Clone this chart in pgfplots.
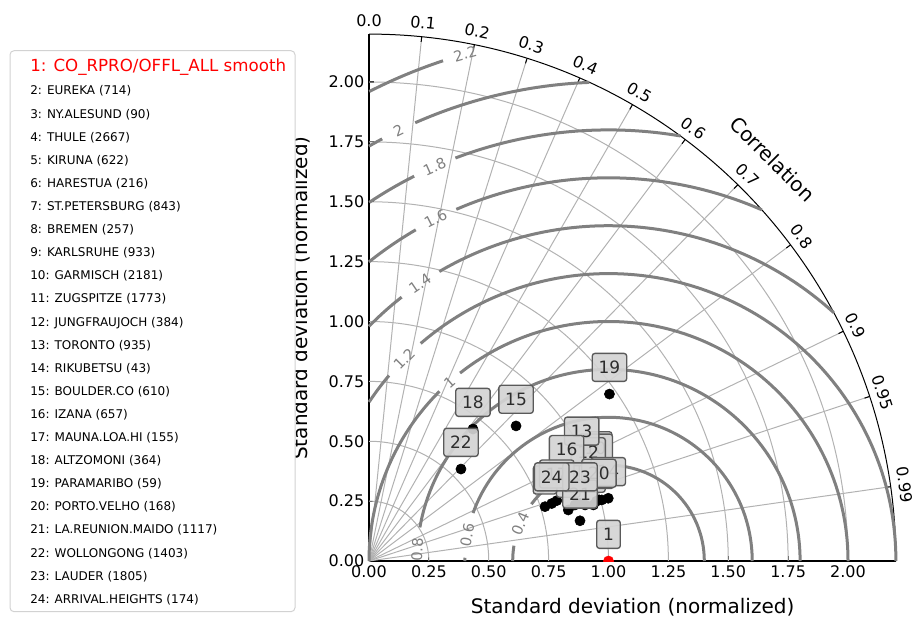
\documentclass[border=0pt]{standalone}
\usepackage{fontspec}
\setmainfont{DejaVu Sans}
\usepackage{pgfplots}
\usepackage{pgfplotstable}
\pgfplotsset{compat=1.18}
\definecolor{gridc}{RGB}{178,178,178}
\definecolor{rmsc}{RGB}{128,128,128}
\definecolor{boxfill}{RGB}{212,212,212}
\definecolor{boxedge}{RGB}{90,90,90}
\definecolor{labtext}{RGB}{45,45,45}
\definecolor{legedge}{RGB}{210,210,210}
\newcommand\U{179.625pt}
% RMS contour segment: radius, start angle, end angle (about the point (1,0))
\newcommand\rms[3]{\draw[rmsc, line width=2.25pt] (axis cs:{1+#1*cos(#2)},{#1*sin(#2)}) arc[start angle=#2, end angle=#3, radius=#1*\U];}
\newcommand\rmslab[3]{\node[text=rmsc, font=\fontsize{11}{13}\selectfont, rotate=#2-90, inner sep=0pt] at (axis cs:{1+#1*cos(#2)},{#1*sin(#2)}) {#3};}

\pgfplotstableread{
x y lab
1.000 0.000 1
0.900 0.330 2
0.937 0.234 3
0.972 0.255 4
0.902 0.234 5
0.832 0.213 6
0.735 0.227 7
0.860 0.234 8
0.965 0.370 9
0.945 0.360 10
0.950 0.250 11
0.915 0.345 12
0.888 0.431 13
0.999 0.262 14
0.614 0.564 15
0.825 0.354 16
0.784 0.252 17
0.434 0.551 18
1.004 0.697 19
0.960 0.255 20
0.881 0.168 21
0.384 0.384 22
0.881 0.240 23
0.763 0.240 24
}\stations

\begin{document}
\begin{tikzpicture}
\useasboundingbox (0,0) rectangle (687.75pt,464.25pt);
\node[rotate=90, font=\fontsize{15}{18}\selectfont] at (226pt,240.75pt) {Standard deviation (normalized)};
\begin{axis}[
  at={(276.75pt,43.5pt)}, anchor=south west,
  scale only axis, width=395.175pt, height=395.175pt,
  xmin=0, xmax=2.2, ymin=0, ymax=2.2,
  axis x line*=bottom, axis y line*=left,
  axis line style={black, line width=0.8pt, -},
  clip mode=individual,
  xtick={0,0.25,0.5,0.75,1,1.25,1.5,1.75,2},
  ytick={0,0.25,0.5,0.75,1,1.25,1.5,1.75,2},
  xticklabels={0.00,0.25,0.50,0.75,1.00,1.25,1.50,1.75,2.00},
  yticklabels={0.00,0.25,0.50,0.75,1.00,1.25,1.50,1.75,2.00},
  tick align=inside,
  major tick length=3.75pt,
  tick style={black, line width=0.8pt},
  tick label style={font=\fontsize{12}{14}\selectfont},
]
% standard deviation arcs
\pgfplotsinvokeforeach{0.25,0.5,0.75,1,1.25,1.5,1.75,2}{
  \draw[gridc, line width=0.75pt] (axis cs:#1,0) arc[start angle=0, end angle=90, radius=#1*\U];
}
% correlation lines, ticks and labels
\pgfplotsinvokeforeach{0.1,0.2,0.3,0.4,0.5,0.6,0.7,0.8,0.9,0.95,0.99}{
  \draw[gridc, line width=0.75pt] (axis cs:0,0) -- (axis cs:{2.2*#1},{2.2*sqrt(1-#1*#1)});
  \draw[black, line width=0.75pt] (axis cs:{2.2*#1},{2.2*sqrt(1-#1*#1)}) -- (axis cs:{2.178*#1},{2.178*sqrt(1-#1*#1)});
  \node[rotate={acos(#1)-90}, font=\fontsize{12}{14}\selectfont, inner sep=0pt] at (axis cs:{2.258*#1},{2.258*sqrt(1-#1*#1)}) {#1};
}
\node[font=\fontsize{12}{14}\selectfont, inner sep=0pt] at (axis cs:0,2.258) {0.0};
\draw[black, line width=0.75pt] (axis cs:2.2,0) arc[start angle=0, end angle=90, radius=2.2*\U];
\node[rotate=-45, font=\fontsize{15}{18}\selectfont] at (axis cs:1.685,1.678) {Correlation};
% RMS difference contours
\rms{0.4}{0}{143.6}\rms{0.4}{170.8}{180}
\rms{0.6}{0}{160.5}\rms{0.6}{178.7}{180}
\rms{0.8}{0}{169.9}
\rms{1.0}{0}{128.3}\rms{1.0}{134.9}{180}
\rms{1.2}{0}{130.8}\rms{1.2}{139.8}{146.4}
\rms{1.4}{47.8}{120.3}\rms{1.4}{128.1}{135.6}
\rms{1.6}{66.4}{113.4}\rms{1.6}{120.2}{128.7}
\rms{1.8}{80.4}{110.8}\rms{1.8}{116.8}{123.7}
\rms{2.0}{92.3}{113.8}\rms{2.0}{118.2}{120}
\rms{2.2}{108.3}{117.0}
\rmslab{0.4}{157.2}{0.4}
\rmslab{0.6}{169.6}{0.6}
\rmslab{0.8}{176.7}{0.8}
\rmslab{1.0}{131.6}{1}
\rmslab{1.2}{135.3}{1.2}
\rmslab{1.4}{124.2}{1.4}
\rmslab{1.6}{116.8}{1.6}
\rmslab{1.8}{113.8}{1.8}
\rmslab{2.0}{116.0}{2}
\rmslab{2.2}{105.8}{2.2}
% points
\addplot[only marks, mark=*, mark size=3.8pt, black, skip coords between index={0}{1}] table[x=x,y=y]{\stations};
\addplot[only marks, mark=*, mark size=3.8pt, red, clip marker paths=true, skip coords between index={1}{24}] table[x=x,y=y]{\stations};
\addplot[draw=none, mark=none, nodes near coords, point meta=explicit symbolic,
  nodes near coords style={anchor=center, yshift=20pt, font=\fontsize{12.75}{14}\selectfont, text=labtext, fill=boxfill, fill opacity=0.92, text opacity=1, draw=boxedge, line width=1pt, rounded corners=2pt, inner xsep=4.8pt, inner ysep=0pt, minimum height=21pt}]
  table[x=x,y=y,meta=lab]{\stations};
\end{axis}
\node[font=\fontsize{15}{18}\selectfont] at (474.4pt,9pt) {Standard deviation (normalized)};
% legend
\draw[legedge, line width=0.75pt, fill=white, rounded corners=3pt] (7.5pt,5.5pt) rectangle (221.25pt,426.2pt);
\node[anchor=base west, inner sep=0pt, text=red, font=\fontsize{12.5}{15}\selectfont] at (22.5pt,410.5pt) {1: CO\_RPRO/OFFL\_ALL smooth};
\begin{scope}[every node/.style={anchor=base west, inner sep=0pt, font=\fontsize{9}{11}\selectfont}]
\node at (22.5pt,393.000pt) {2: EUREKA (714)};
\node at (22.5pt,375.675pt) {3: NY.ALESUND (90)};
\node at (22.5pt,358.350pt) {4: THULE (2667)};
\node at (22.5pt,341.025pt) {5: KIRUNA (622)};
\node at (22.5pt,323.700pt) {6: HARESTUA (216)};
\node at (22.5pt,306.375pt) {7: ST.PETERSBURG (843)};
\node at (22.5pt,289.050pt) {8: BREMEN (257)};
\node at (22.5pt,271.725pt) {9: KARLSRUHE (933)};
\node at (22.5pt,254.400pt) {10: GARMISCH (2181)};
\node at (22.5pt,237.075pt) {11: ZUGSPITZE (1773)};
\node at (22.5pt,219.750pt) {12: JUNGFRAUJOCH (384)};
\node at (22.5pt,202.425pt) {13: TORONTO (935)};
\node at (22.5pt,185.100pt) {14: RIKUBETSU (43)};
\node at (22.5pt,167.775pt) {15: BOULDER.CO (610)};
\node at (22.5pt,150.450pt) {16: IZANA (657)};
\node at (22.5pt,133.125pt) {17: MAUNA.LOA.HI (155)};
\node at (22.5pt,115.800pt) {18: ALTZOMONI (364)};
\node at (22.5pt,98.475pt) {19: PARAMARIBO (59)};
\node at (22.5pt,81.150pt) {20: PORTO.VELHO (168)};
\node at (22.5pt,63.825pt) {21: LA.REUNION.MAIDO (1117)};
\node at (22.5pt,46.500pt) {22: WOLLONGONG (1403)};
\node at (22.5pt,29.175pt) {23: LAUDER (1805)};
\node at (22.5pt,11.850pt) {24: ARRIVAL.HEIGHTS (174)};
\end{scope}
\end{tikzpicture}
\end{document}
